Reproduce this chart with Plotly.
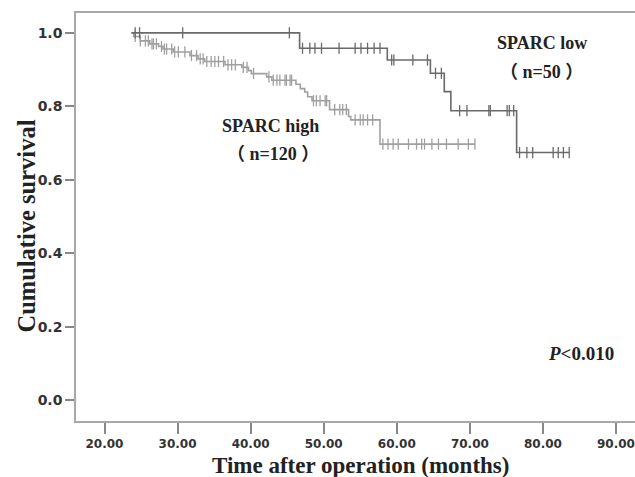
import plotly.graph_objects as go
import bisect

# ---- data (months, cumulative survival) ----
low_start, low_end = 23.7, 83.6
low_event_t = [46.7, 58.7, 64.6, 66.5, 67.4, 76.4]
low_event_s = [0.958, 0.926, 0.890, 0.840, 0.788, 0.674]
low_censor_t = [24.2, 24.8, 30.7, 45.3, 47.1, 48.1, 48.8, 49.7, 52.1, 54.3, 55.1,
                56.0, 56.9, 57.7, 59.3, 59.6, 62.2, 64.2, 65.3, 66.1, 68.6, 69.6,
                72.6, 72.8, 75.1, 75.4, 76.0, 76.8, 77.8, 78.6, 81.4, 82.1, 82.8, 83.6]

high_start, high_end = 23.7, 70.7
high_event_t = [24.0, 24.9, 26.2, 27.4, 28.0, 29.4, 31.7, 32.8, 33.7, 36.5, 38.8,
                39.7, 40.1, 42.2, 42.9, 46.2, 46.8, 47.4, 47.8, 48.4, 50.8, 53.4,
                53.7, 57.7]
high_event_s = [0.990, 0.978, 0.970, 0.963, 0.956, 0.948, 0.938, 0.929, 0.922, 0.913,
                0.906, 0.897, 0.889, 0.880, 0.871, 0.860, 0.848, 0.839, 0.826, 0.815,
                0.791, 0.772, 0.763, 0.697]
high_censor_t = [24.2, 24.9, 25.6, 26.0, 26.5, 26.7, 27.1, 27.8, 28.2, 28.5, 29.2,
                 29.6, 30.1, 31.0, 31.9, 32.6, 33.1, 33.5, 34.0, 34.6, 35.1, 35.6,
                 36.3, 36.9, 37.4, 37.9, 39.0, 39.5, 40.4, 42.5, 43.1, 43.6, 44.0,
                 44.7, 44.9, 45.4, 45.6, 48.6, 49.0, 49.5, 50.2, 50.4, 51.5, 52.2,
                 52.6, 53.1, 54.3, 55.0, 55.4, 56.0, 56.7, 58.1, 58.8, 59.5, 60.2,
                 61.6, 62.7, 63.4, 63.8, 64.8, 65.7, 66.8, 68.4, 69.8, 70.7]

x_ticks = [20, 30, 40, 50, 60, 70, 80, 90]
y_ticks = [0.0, 0.2, 0.4, 0.6, 0.8, 1.0]

LOW_COL = "#6a6a6a"
HIGH_COL = "#a0a0a0"
AXIS_COL = "#a8a8a8"


def step_xy(start, end, ts, ss):
    xs = [start] + ts + [end]
    ys = [1.0] + ss + [ss[-1]]
    return xs, ys


def surv_at(t, ts, ss):
    i = bisect.bisect_right(ts, t)
    return 1.0 if i == 0 else ss[i - 1]


fig = go.Figure()
for start, end, ts, ss, cens, col in [
    (high_start, high_end, high_event_t, high_event_s, high_censor_t, HIGH_COL),
    (low_start, low_end, low_event_t, low_event_s, low_censor_t, LOW_COL),
]:
    xs, ys = step_xy(start, end, ts, ss)
    fig.add_trace(go.Scatter(x=xs, y=ys, mode="lines", line=dict(color=col, width=1.6, shape="hv"),
                             showlegend=False, hoverinfo="skip"))
    fig.add_trace(go.Scatter(x=cens, y=[surv_at(c, ts, ss) for c in cens], mode="markers",
                             marker=dict(symbol="line-ns", size=8, line=dict(color=col, width=1.3)),
                             showlegend=False, hoverinfo="skip"))

serif = "Liberation Serif, Times New Roman, Noto Sans CJK SC, serif"
ann_font = dict(family=serif, size=18, color="#222222")
fig.add_annotation(x=79.9, y=0.971, text="<b>SPARC low</b>", showarrow=False, font=ann_font)
fig.add_annotation(x=79.8, y=0.894, text="<b>（&nbsp;n=50&nbsp;）</b>", showarrow=False, font=ann_font)
fig.add_annotation(x=42.7, y=0.745, text="<b>SPARC high</b>", showarrow=False, font=ann_font)
fig.add_annotation(x=43.0, y=0.669, text="<b>（&nbsp;n=120&nbsp;）</b>", showarrow=False, font=ann_font)
fig.add_annotation(x=85.2, y=0.128, text="<b><i>P</i>&lt;0.010</b>", showarrow=False,
                   font=dict(family=serif, size=19, color="#222222"))

# axis titles
fig.add_annotation(xref="paper", yref="paper", x=0.509, y=-0.110, xanchor="center", yanchor="middle",
                   text="<b>Time after operation (months)</b>", showarrow=False,
                   font=dict(family=serif, size=23, color="#222222"))
fig.add_annotation(xref="paper", yref="paper", x=-0.0877, y=0.479, xanchor="center", yanchor="middle",
                   textangle=-90, text="<b>Cumulative survival</b>", showarrow=False,
                   font=dict(family=serif, size=24.5, color="#222222"))

fig.update_layout(
    width=635, height=477,
    margin=dict(l=76, r=0, t=13, b=56),
    plot_bgcolor="white", paper_bgcolor="white",
    xaxis=dict(range=[16.1, 92.6], tickvals=x_ticks, ticktext=[f"<b>{v:.2f}</b>" for v in x_ticks],
               showgrid=False, zeroline=False, showline=True, linecolor=AXIS_COL, linewidth=1.5,
               mirror=True, ticks="outside", ticklen=11, tickcolor="#888888", tickwidth=1.5,
               tickfont=dict(family="DejaVu Sans", size=12, color="#333333"),
               automargin=False),
    yaxis=dict(range=[-0.057, 1.054], tickvals=y_ticks, ticktext=[f"<b>{v:.1f}</b>" for v in y_ticks],
               showgrid=False, zeroline=False, showline=True, linecolor=AXIS_COL, linewidth=1.5,
               ticks="outside", ticklen=9, tickcolor="#888888", tickwidth=1.5,
               tickfont=dict(family="DejaVu Sans", size=14, color="#333333"),
               automargin=False),
)

fig.write_html("out.html", config={"displayModeBar": False},
               post_script="document.body.style.margin='0';document.body.style.overflow='hidden';")
